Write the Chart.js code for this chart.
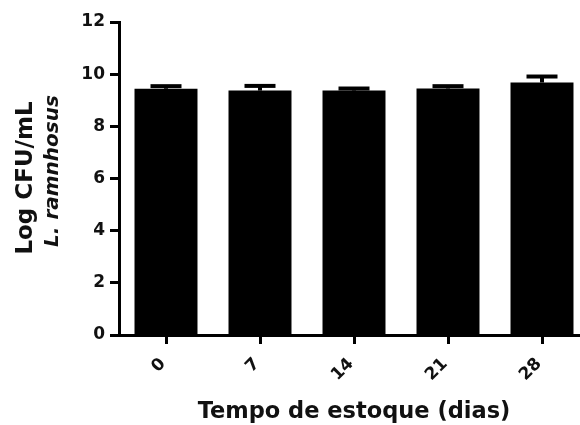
<!DOCTYPE html>
<html>
<head>
<meta charset="utf-8">
<script src="https://cdn.jsdelivr.net/npm/chart.js@4/dist/chart.umd.min.js"></script>
<style>
  html, body { margin: 0; padding: 0; background: #fff; overflow: hidden; }
  #wrap { width: 590px; height: 425px; }
</style>
</head>
<body>
<div id="wrap"><canvas id="c" width="590" height="425"></canvas></div>
<script>
// ---- data ----
const categories = ['0', '7', '14', '21', '28'];
const meanValues = [9.44, 9.37, 9.37, 9.45, 9.68];
const errorValues = [0.10, 0.18, 0.08, 0.09, 0.23];
const yTickValues = [0, 2, 4, 6, 8, 10, 12];
const xTitle = 'Tempo de estoque (dias)';
const yTitleLine1 = 'Log CFU/mL';
const yTitleLine2 = 'L. ramnhosus';

const FONT = 'DejaVu Sans';

const errorBarPlugin = {
  id: 'errorBars',
  afterDatasetsDraw(chart) {
    const ctx = chart.ctx;
    const yScale = chart.scales.y;
    const meta = chart.getDatasetMeta(0);
    ctx.save();
    ctx.strokeStyle = '#000';
    ctx.lineWidth = 4;
    ctx.lineCap = 'butt';
    meta.data.forEach((bar, i) => {
      const x = bar.x;
      const yBase = yScale.getPixelForValue(meanValues[i]);
      const yTop = yScale.getPixelForValue(meanValues[i] + errorValues[i]);
      ctx.beginPath();
      ctx.moveTo(x, yBase);
      ctx.lineTo(x, yTop);
      ctx.stroke();
      ctx.beginPath();
      ctx.moveTo(x - 15.5, yTop);
      ctx.lineTo(x + 15.5, yTop);
      ctx.stroke();
    });
    ctx.restore();
  }
};

const titlesPlugin = {
  id: 'titles',
  afterDraw(chart) {
    const ctx = chart.ctx;
    const area = chart.chartArea;
    ctx.save();
    ctx.fillStyle = '#111';
    // x title
    ctx.font = 'bold 22.5px "' + FONT + '"';
    ctx.textAlign = 'center';
    ctx.textBaseline = 'alphabetic';
    ctx.fillText(xTitle, (area.left + area.right) / 2, 418);
    // y title line 1
    ctx.save();
    ctx.translate(32, 178);
    ctx.rotate(-Math.PI / 2);
    ctx.font = 'bold 23px "' + FONT + '"';
    ctx.fillText(yTitleLine1, 0, 0);
    ctx.restore();
    // y title line 2 (italic)
    ctx.save();
    ctx.translate(58, 171);
    ctx.rotate(-Math.PI / 2);
    ctx.font = 'italic bold 20px "' + FONT + '"';
    ctx.fillText(yTitleLine2, 0, 0);
    ctx.restore();
    ctx.restore();
  }
};

new Chart(document.getElementById('c'), {
  type: 'bar',
  data: {
    labels: categories,
    datasets: [{
      data: meanValues,
      backgroundColor: '#000',
      borderWidth: 0,
      barPercentage: 0.67,
      categoryPercentage: 1.0
    }]
  },
  options: {
    responsive: false,
    devicePixelRatio: 1,
    animation: false,
    layout: { padding: { top: 22, right: 1, bottom: 0, left: 0 } },
    plugins: { legend: { display: false }, tooltip: { enabled: false } },
    scales: {
      x: {
        afterFit(scale) { scale.height = 90; },
        border: { display: true, color: '#000', width: 3 },
        grid: {
          display: true, drawOnChartArea: false, drawTicks: true,
          offset: false, tickLength: 9, tickWidth: 3, tickColor: '#000'
        },
        ticks: {
          color: '#111', maxRotation: 45, minRotation: 45, padding: 10, labelOffset: -3,
          font: { family: FONT, size: 17, weight: 'bold' }
        }
      },
      y: {
        min: 0, max: 12,
        afterFit(scale) { scale.width = 119; },
        afterBuildTicks(scale) { scale.ticks = yTickValues.map(v => ({ value: v })); },
        border: { display: true, color: '#000', width: 3 },
        grid: {
          display: true, drawOnChartArea: false, drawTicks: true,
          tickLength: 9, tickWidth: 3, tickColor: '#000'
        },
        ticks: {
          color: '#111', padding: 5,
          font: { family: FONT, size: 17, weight: 'bold' }
        }
      }
    }
  },
  plugins: [errorBarPlugin, titlesPlugin]
});
</script>
</body>
</html>
